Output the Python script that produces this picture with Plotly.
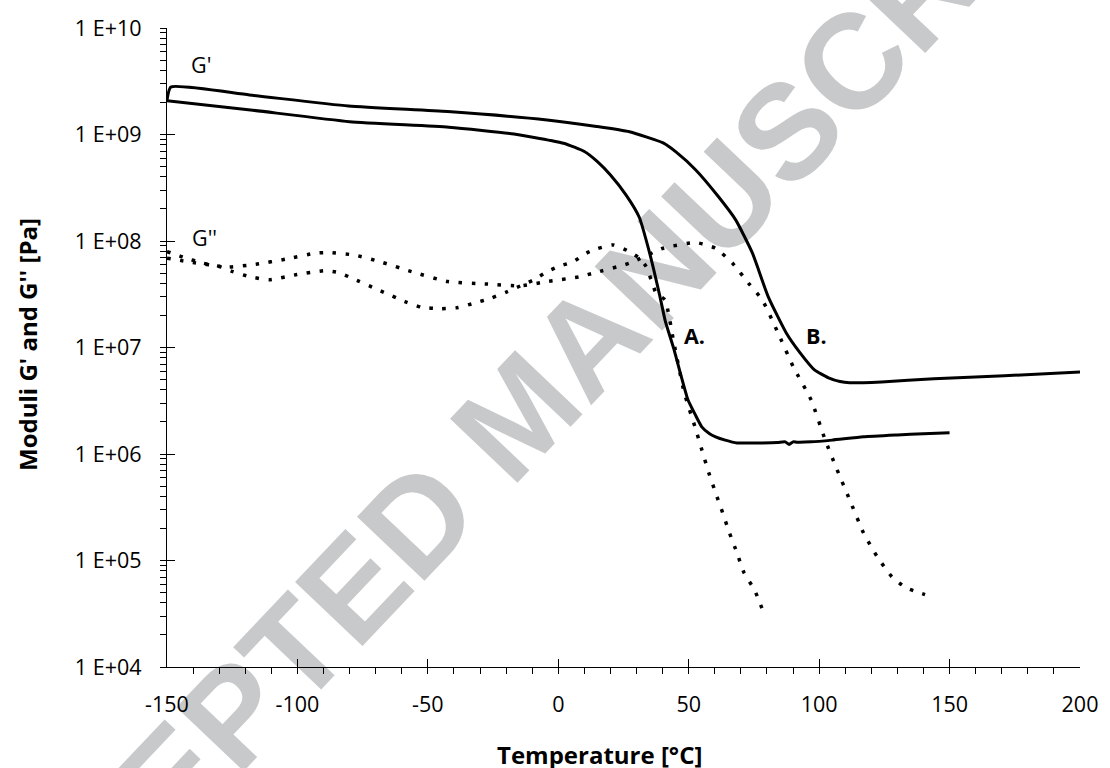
import plotly.graph_objects as go

# ---------------- data ----------------
# Sample A, storage modulus G' (solid, lower-temperature transition)
temp_A_gp = [-150, -118, -80, -42, -17, 2, 10, 15, 20, 26, 31, 35, 39, 41, 44.4, 47, 49.7,
             52.5, 55, 58, 60.3, 64, 68.5, 76.7, 84, 87, 88.5, 90, 91.5, 97, 105, 117, 130, 140, 150]
A_gp = [2.08e9, 1.70e9, 1.32e9, 1.17e9, 1.01e9, 8.28e8, 6.92e8, 5.56e8, 4.17e8, 2.70e8, 1.68e8,
        7.73e7, 2.99e7, 1.78e7, 9.51e6, 5.50e6, 3.23e6, 2.34e6, 1.80e6, 1.55e6, 1.45e6, 1.35e6,
        1.27e6, 1.27e6, 1.28e6, 1.30e6, 1.23e6, 1.30e6, 1.29e6, 1.30e6, 1.35e6, 1.45e6, 1.51e6,
        1.55e6, 1.58e6]

# Sample B, storage modulus G' (solid, higher-temperature transition)
temp_B_gp = [-150, -148.5, -118.4, -80.4, -42.4, -4.3, 14.7, 27.3, 40.2, 45.1, 52.7, 61.5, 68,
             74.4, 80.5, 87.4, 92.7, 98.2, 103.6, 108, 111.7, 123.9, 144, 171, 200]
B_gp = [2.11e9, 2.79e9, 2.35e9, 1.85e9, 1.64e9, 1.37e9, 1.19e9, 1.06e9, 8.34e8, 6.87e8, 4.65e8,
        2.59e8, 1.58e8, 7.73e7, 2.99e7, 1.37e7, 8.91e6, 6.17e6, 5.19e6, 4.79e6, 4.66e6, 4.75e6,
        5.08e6, 5.42e6, 5.90e6]

# Sample A, loss modulus G'' (dotted)
temp_A_gpp = [-150, -140, -129.8, -124.8, -118.4, -110.8, -100.7, -89.3, -84.2, -79.1, -69, -58.8,
              -52.5, -44.9, -38.5, -32.2, -25.9, -19.5, -14.5, -9.4, -4.3, 0.7, 5.8, 10.8, 14.7,
              21.1, 27.3, 31.1, 33.7, 35.6, 37.5, 40.9, 44.3, 48.3, 52.4, 55, 57.7, 60.3, 63,
              65.6, 68.5, 71.2, 75.2, 78.6]
A_gpp = [6.90e7, 6.27e7, 5.75e7, 5.16e7, 4.63e7, 4.32e7, 4.81e7, 5.27e7, 5.05e7, 4.48e7, 3.48e7,
         2.70e7, 2.39e7, 2.31e7, 2.37e7, 2.61e7, 2.90e7, 3.35e7, 3.79e7, 4.32e7, 5.16e7, 5.83e7,
         6.41e7, 7.69e7, 8.43e7, 9.18e7, 7.94e7, 6.90e7, 5.75e7, 4.32e7, 3.24e7, 2.80e7, 1.11e7,
         3.76e6, 1.80e6, 1.10e6, 6.65e5, 4.33e5, 2.81e5, 1.82e5, 1.18e5, 7.67e4, 5.31e4, 3.30e4]

# Sample B, loss modulus G'' (dotted)
temp_B_gpp = [-150, -143.8, -136.2, -127.3, -115.9, -104.5, -93.1, -88, -77.8, -67.7, -56.3,
              -42.4, -27.1, -14.5, -4.3, 8.4, 13.4, 27.3, 40.2, 52.7, 60.3, 66.8, 72.9, 78.2, 84,
              90.1, 96.9, 102.3, 106.4, 111.7, 117, 122.3, 127.9, 133.3, 140.6]
B_gpp = [7.96e7, 7.05e7, 6.19e7, 5.68e7, 6.05e7, 6.75e7, 7.69e7, 7.78e7, 7.36e7, 6.32e7, 5.16e7,
         4.16e7, 3.94e7, 3.79e7, 4.16e7, 4.63e7, 4.99e7, 6.19e7, 8.55e7, 9.66e7, 8.55e7, 6.19e7,
         4.02e7, 2.80e7, 1.41e7, 6.58e6, 3.23e6, 1.36e6, 7.59e5, 3.72e5, 1.82e5, 1.08e5, 7.03e4,
         5.55e4, 4.78e4]

x_ticks = [-150, -100, -50, 0, 50, 100, 150, 200]
x_ticktext = ["-150", "-100", "-50", "0", "50", "100", "150", "200"]
y_ticks = [1e4, 1e5, 1e6, 1e7, 1e8, 1e9, 1e10]
y_ticktext = ["1 E+04", "1 E+05", "1 E+06", "1 E+07", "1 E+08", "1 E+09", "1 E+10"]

# ---------------- figure ----------------
FONT = "Open Sans"
solid = dict(color="black", width=3, shape="spline", smoothing=0.5)
dotted = dict(color="black", width=3.5, dash="3.5px,9.5px", shape="spline", smoothing=0.5)

fig = go.Figure()
fig.add_trace(go.Scatter(x=temp_A_gp, y=A_gp, mode="lines", line=solid, name="A G'"))
fig.add_trace(go.Scatter(x=temp_B_gp, y=B_gp, mode="lines", line=solid, name="B G'"))
fig.add_trace(go.Scatter(x=temp_A_gpp, y=A_gpp, mode="lines", line=dotted, name="A G''"))
fig.add_trace(go.Scatter(x=temp_B_gpp, y=B_gpp, mode="lines", line=dotted, name="B G''"))
# helper trace so that the overlay axis (inner half of crossing ticks) is drawn
fig.add_trace(go.Scatter(x=[None], y=[None], yaxis="y2", mode="lines", showlegend=False,
                         hoverinfo="skip"))

minor_y = [k * 10 ** d for d in range(4, 10) for k in range(2, 10)]

fig.update_layout(
    width=1110, height=768,
    margin=dict(l=167, r=23, t=28, b=101),
    paper_bgcolor="white", plot_bgcolor="white",
    showlegend=False,
    font=dict(family=FONT, color="black"),
    xaxis=dict(
        range=[-150, 200], tickmode="array", tickvals=x_ticks, ticktext=x_ticktext,
        ticks="inside", ticklen=8, tickwidth=1.3, tickcolor="black",
        showline=True, linecolor="black", linewidth=1.3,
        showgrid=False, zeroline=False,
        tickfont=dict(family=FONT, size=21.5, color="black"),
        ticklabelstandoff=18,
        minor=dict(dtick=10, tick0=-150, ticks="outside", ticklen=6, tickwidth=1.3,
                   tickcolor="black", showgrid=False),
    ),
    yaxis=dict(
        type="log", range=[4, 10], tickmode="array", tickvals=y_ticks, ticktext=y_ticktext,
        ticks="outside", ticklen=6, tickwidth=1.3, tickcolor="black",
        showline=True, linecolor="black", linewidth=1.3,
        showgrid=False, zeroline=False,
        tickfont=dict(family=FONT, size=21.5, color="black"),
        ticklabelstandoff=14,
        minor=dict(tickmode="array", tickvals=minor_y, ticks="outside", ticklen=6,
                   tickwidth=1.3, tickcolor="black", showgrid=False),
    ),
    yaxis2=dict(
        type="log", range=[4, 10], overlaying="y", side="left", anchor="x",
        tickmode="array", tickvals=y_ticks, ticks="inside", ticklen=8, tickwidth=1.3,
        tickcolor="black", showticklabels=False, showline=False, showgrid=False,
        zeroline=False,
    ),
)

# watermark (drawn below the data)
wx, wy = (512 - 167) / 920, (667.3 - 405) / 639.3
fig.add_shape(
    type="rect", xref="paper", yref="paper",
    x0=wx - 0.008, x1=wx + 0.008, y0=wy - 0.01, y1=wy + 0.01,
    line=dict(width=0), fillcolor="rgba(0,0,0,0)", layer="below",
    label=dict(text="ACCEPTED MANUSCRIPT", textangle=-46.5, textposition="middle center",
               font=dict(family="Liberation Sans", size=135, color="#c8c9cb", weight="bold")),
)

# axis titles
fig.add_annotation(text="<b>Temperature [°C]</b>", xref="paper", yref="paper",
                   x=(603 - 167) / 920, y=(667.3 - 755) / 639.3, showarrow=False,
                   xanchor="center", yanchor="middle",
                   font=dict(family=FONT, size=24, color="black"))
fig.add_annotation(text="<b>Moduli G' and G'' [Pa]</b>", xref="paper", yref="paper",
                   x=(27 - 167) / 920, y=(667.3 - 345) / 639.3, showarrow=False,
                   textangle=-90, xanchor="center", yanchor="middle",
                   font=dict(family=FONT, size=24, color="black"))

# curve labels
for txt, tx, ly, bold in [("G'", -137.1, 9.662, False), ("G''", -135.5, 8.034, False),
                          ("A.", 52.2, 7.114, True), ("B.", 99.1, 7.114, True)]:
    fig.add_annotation(text=f"<b>{txt}</b>" if bold else txt, x=tx, y=ly, xref="x", yref="y",
                       showarrow=False, xanchor="center", yanchor="middle",
                       font=dict(family=FONT, size=21.5, color="black"))

fig.write_html("out.html",
               config={"displayModeBar": False},
               post_script="document.body.style.margin='0px';"
                           "document.body.style.overflow='hidden';")
